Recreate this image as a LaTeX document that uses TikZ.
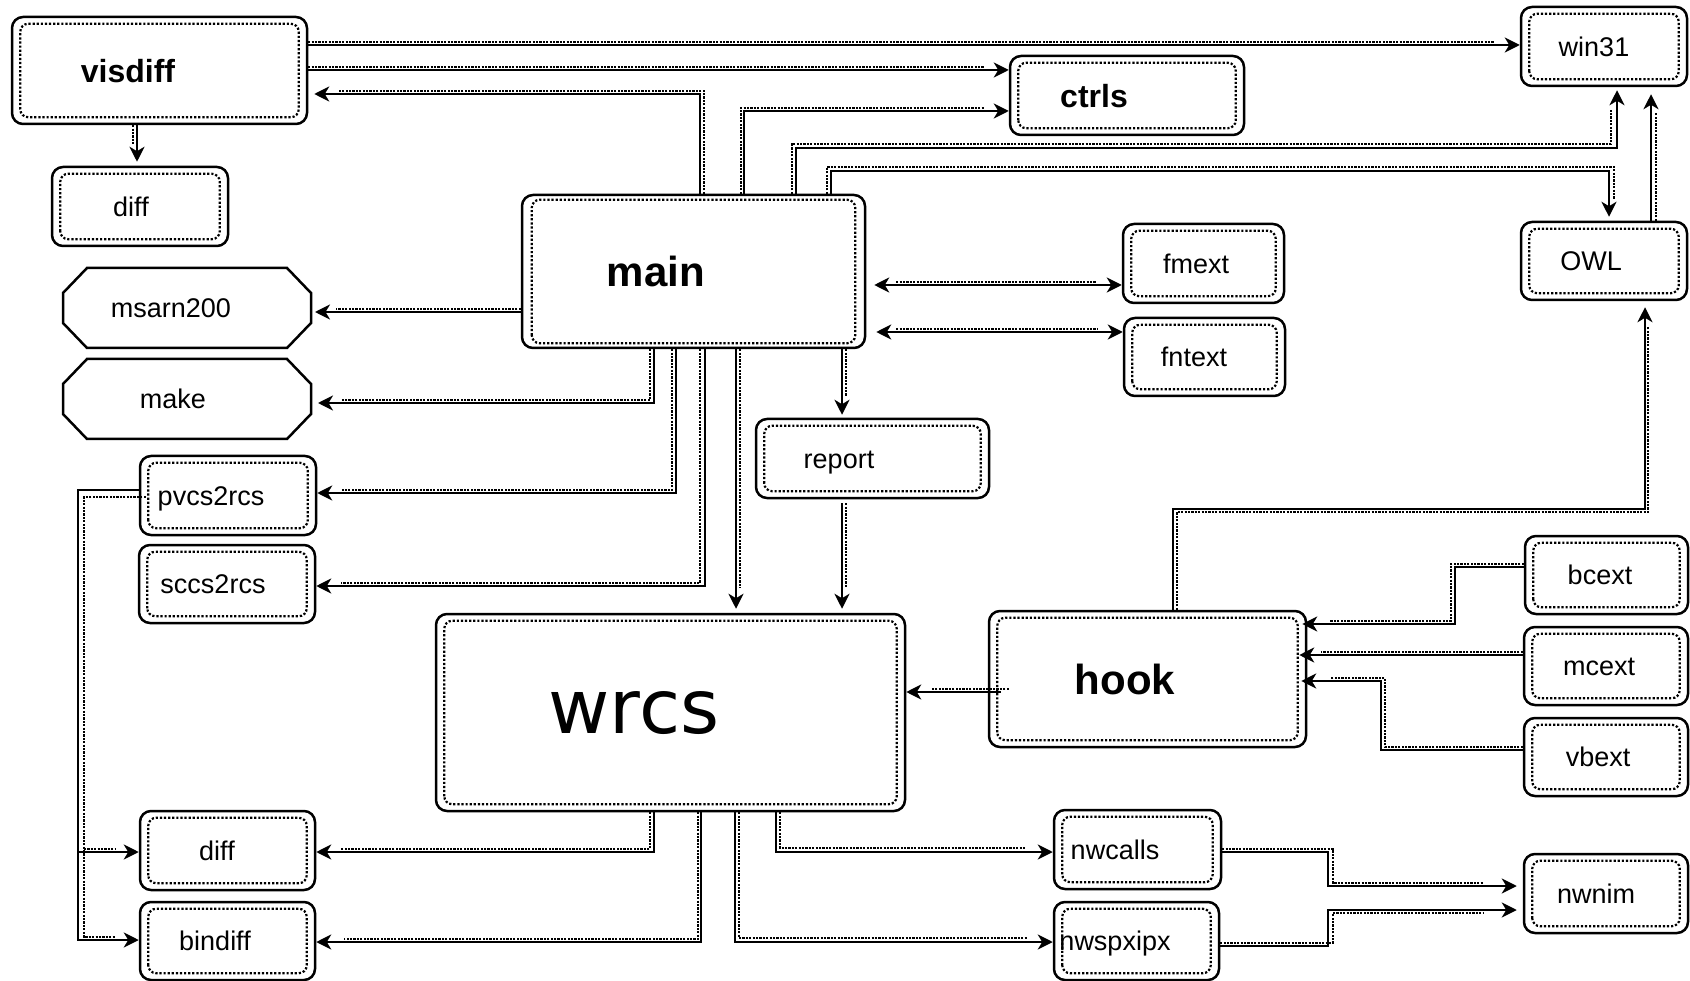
\documentclass[tikz,border=0pt]{standalone}
\usepackage{fontspec}
\setmainfont{Liberation Sans}
\newfontfamily\wfont{DejaVu Sans}
\usetikzlibrary{arrows.meta}
\newcommand\sh[2]{\hspace*{#1}#2\hspace*{-#1}}
\newcommand\octo[1]{\draw[line width=2.5pt, line join=miter] ([xshift=24pt]#1.north west) -- ([xshift=-24pt]#1.north east) -- ([yshift=-25pt]#1.north east) -- ([yshift=25pt]#1.south east) -- ([xshift=-24pt]#1.south east) -- ([xshift=24pt]#1.south west) -- ([yshift=25pt]#1.south west) -- ([yshift=-25pt]#1.north west) -- cycle;}
\tikzset{
  Tp/.tip={Stealth[length=15pt,width=15pt,inset=4.5pt]},
  box/.style={draw, line width=2.5pt, rounded corners=11pt, inner sep=0pt,
    font=\fontsize{27}{32}\selectfont, text height=19.7pt, text depth=0pt},
  octbox/.style={inner sep=0pt, outer sep=0pt, font=\fontsize{27}{32}\selectfont, text height=19.7pt, text depth=0pt},
  big/.style={font=\fontsize{32}{38}\selectfont\bfseries, text height=23.4pt},
  huge/.style={font=\fontsize{42}{48}\selectfont\bfseries, text height=30.7pt},
  wbig/.style={font=\wfont\fontsize{75}{85}\selectfont, text height=41pt},
  innerline/.style={line width=2.2pt, dash pattern=on 2.2pt off 1.9pt, rounded corners=8pt},
  wire/.style={line width=2.3pt, -Tp},
  both/.style={Tp-Tp},
  dots/.style={line width=2.2pt, dash pattern=on 2.2pt off 1.2pt},
}
\begin{document}
\begin{tikzpicture}[x=1pt,y=-1pt]
\fill[white] (0,0) rectangle (1690,981);
\useasboundingbox (0,0) rectangle (1690,981);

% nodes
\node[box, big, minimum width=295pt, minimum height=107pt] (visdiff) at (159.5,70.5) {\sh{-31.5pt}{visdiff}};
\node[box, minimum width=176pt, minimum height=79pt] (diffA) at (140,206.5) {\sh{-9pt}{diff}};
\node[box, huge, minimum width=343pt, minimum height=153pt] (main) at (693.5,271.5) {\sh{-37.5pt}{main}};
\node[box, big, minimum width=234pt, minimum height=79pt] (ctrls) at (1127,95.5) {\sh{-33pt}{ctrls}};
\node[box, minimum width=166pt, minimum height=79pt] (win31) at (1604,46.5) {\sh{-10pt}{win31}};
\node[box, minimum width=166pt, minimum height=78pt] (OWL) at (1604,261) {\sh{-13pt}{OWL}};
\node[box, minimum width=161pt, minimum height=79pt] (fmext) at (1203.5,263.5) {\sh{-7.5pt}{fmext}};
\node[box, minimum width=161pt, minimum height=78pt] (fntext) at (1204.5,357) {\sh{-10.5pt}{fntext}};
\node[octbox, minimum width=248pt, minimum height=80pt] (msarn) at (187,308) {\sh{-16pt}{msarn200}};
\node[octbox, minimum width=248pt, minimum height=80pt] (make) at (187,399) {\sh{-14pt}{make}};
\octo{msarn}
\octo{make}
\node[box, minimum width=176pt, minimum height=79pt] (pvcs) at (228,495.5) {\sh{-17pt}{pvcs2rcs}};
\node[box, minimum width=176pt, minimum height=78pt] (sccs) at (227,584) {\sh{-14pt}{sccs2rcs}};
\node[box, minimum width=233pt, minimum height=79pt] (report) at (872.5,458.5) {\sh{-33.5pt}{report}};
\node[box, wbig, minimum width=469pt, minimum height=197pt] (wrcs) at (670.5,712.5) {\sh{-36.5pt}{wrcs}};
\node[box, huge, minimum width=317pt, minimum height=136pt] (hook) at (1147.5,679) {\sh{-22.5pt}{hook}};
\node[box, minimum width=163pt, minimum height=78pt] (bcext) at (1606.5,575) {\sh{-6.5pt}{bcext}};
\node[box, minimum width=164pt, minimum height=78pt] (mcext) at (1606,666) {\sh{-7pt}{mcext}};
\node[box, minimum width=164pt, minimum height=78pt] (vbext) at (1606,757) {\sh{-8pt}{vbext}};
\node[box, minimum width=175pt, minimum height=79pt] (diffB) at (227.5,850.5) {\sh{-10.5pt}{diff}};
\node[box, minimum width=175pt, minimum height=78pt] (bindiff) at (227.5,941) {\sh{-12.5pt}{bindiff}};
\node[box, minimum width=167pt, minimum height=79pt] (nwcalls) at (1137.5,849.5) {\sh{-22.5pt}{nwcalls}};
\node[box, minimum width=165pt, minimum height=78pt] (nwspx) at (1136.5,941) {\sh{-21.5pt}{nwspxipx}};
\node[box, minimum width=164pt, minimum height=79pt] (nwnim) at (1606,893.5) {\sh{-10pt}{nwnim}};

\foreach \n in {visdiff,diffA,ctrls,win31,OWL,fmext,fntext,pvcs,sccs,report,wrcs,hook,bcext,mcext,vbext,diffB,bindiff,nwcalls,nwspx,nwnim}
  \draw[innerline] ([xshift=9.5pt,yshift=8pt]\n.south west) rectangle ([xshift=-9.5pt,yshift=-8pt]\n.north east);
\draw[innerline] ([xshift=11pt,yshift=6pt]main.south west) rectangle ([xshift=-11pt,yshift=-6pt]main.north east);

% connectors
% visdiff -> diff
\draw[wire, shorten >=4pt] (visdiff.south -| 137,0) -- (diffA.north -| 137,0);
\draw[dots, shorten >=22pt] (visdiff.south -| 133,0) -- (diffA.north -| 133,0);
% visdiff -> win31
\draw[wire] (visdiff.east |- 0,45) -- (win31.west |- 0,45);
\draw[dots, shorten >=25pt] (visdiff.east |- 0,42) -- (win31.west |- 0,42);
% visdiff -> ctrls
\draw[wire] (visdiff.east |- 0,70) -- (ctrls.west |- 0,70);
\draw[dots, shorten >=25pt] (visdiff.east |- 0,67) -- (ctrls.west |- 0,67);
% main -> visdiff
\draw[wire, shorten >=6pt] (main.north -| 700,0) |- (visdiff.east |- 0,94);
\draw[dots, shorten >=30pt] (main.north -| 704,0) |- (visdiff.east |- 0,91);
% main -> ctrls
\draw[wire] (main.north -| 744,0) |- (ctrls.west |- 0,111);
\draw[dots, shorten >=25pt] (main.north -| 741,0) |- (ctrls.west |- 0,108);
% main -> win31
\draw[wire, shorten >=3pt] (main.north -| 796,0) |- (1617,148) -- (win31.south -| 1617,0);
\draw[dots, shorten >=22pt] (main.north -| 792,0) |- (1611,144) -- (win31.south -| 1611,0);
% main -> OWL
\draw[wire, shorten >=4pt] (main.north -| 831,0) |- (1609,171) -- (OWL.north -| 1609,0);
\draw[dots, shorten >=22pt] (main.north -| 827,0) |- (1614,167) -- (OWL.north -| 1614,0);
% OWL -> win31
\draw[wire, shorten >=7pt] (OWL.north -| 1651,0) -- (win31.south -| 1651,0);
\draw[dots, shorten >=25pt] (OWL.north -| 1656,0) -- (win31.south -| 1656,0);
% hook -> OWL
\draw[wire, shorten >=6pt] (hook.north -| 1173,0) |- (1645,509) -- (OWL.south -| 1645,0);
\draw[dots, shorten >=25pt] (hook.north -| 1177,0) |- (1648,512) -- (OWL.south -| 1648,0);
% main <-> fmext, fntext
\draw[wire, both, shorten <=8pt] (main.east |- 0,285) -- (fmext.west |- 0,285);
\draw[dots, shorten <=30pt, shorten >=25pt] (main.east |- 0,282) -- (fmext.west |- 0,282);
\draw[wire, both, shorten <=10pt] (main.east |- 0,332) -- (fntext.west |- 0,332);
\draw[dots, shorten <=30pt, shorten >=25pt] (main.east |- 0,329) -- (fntext.west |- 0,329);
% main -> msarn200
\draw[wire, shorten >=4pt] (main.west |- 0,312) -- (msarn.east |- 0,312);
\draw[dots, shorten >=25pt] (main.west |- 0,309) -- (msarn.east |- 0,309);
% main -> make
\draw[wire, shorten >=7pt] (main.south -| 654,0) |- (make.east |- 0,403);
\draw[dots, shorten >=30pt] (main.south -| 650,0) |- (make.east |- 0,400);
% main -> pvcs2rcs
\draw[wire] (main.south -| 676,0) |- (pvcs.east |- 0,493);
\draw[dots, shorten >=25pt] (main.south -| 672,0) |- (pvcs.east |- 0,490);
% main -> sccs2rcs
\draw[wire] (main.south -| 705,0) |- (sccs.east |- 0,586);
\draw[dots, shorten >=25pt] (main.south -| 700,0) |- (sccs.east |- 0,583);
% main -> wrcs
\draw[wire, shorten >=4pt] (main.south -| 736,0) -- (wrcs.north -| 736,0);
\draw[dots, shorten >=25pt] (main.south -| 740,0) -- (wrcs.north -| 740,0);
% main -> report -> wrcs
\draw[wire, shorten >=3pt] (main.south -| 842,0) -- (report.north -| 842,0);
\draw[dots, shorten >=22pt] (main.south -| 846,0) -- (report.north -| 846,0);
\draw[wire, shorten <=4pt, shorten >=4pt] (report.south -| 842,0) -- (wrcs.north -| 842,0);
\draw[dots, shorten <=4pt, shorten >=25pt] (report.south -| 846,0) -- (wrcs.north -| 846,0);
% hook -> wrcs
\draw[wire, shorten <=-13pt] (hook.west |- 0,692) -- (wrcs.east |- 0,692);
\draw[dots, shorten <=-21pt, shorten >=25pt] (hook.west |- 0,689) -- (wrcs.east |- 0,689);
% bcext, mcext, vbext -> hook
\draw[wire, shorten >=-5pt] (bcext.west |- 0,567) -| (1455,624) -- (hook.east |- 0,624);
\draw[dots, shorten >=22pt] (bcext.west |- 0,564) -| (1451,621) -- (hook.east |- 0,621);
\draw[wire, shorten >=-8pt] (mcext.west |- 0,655) -- (hook.east |- 0,655);
\draw[dots, shorten >=14pt] (mcext.west |- 0,652) -- (hook.east |- 0,652);
\draw[wire, shorten >=-6pt] (vbext.west |- 0,750) -| (1381,681) -- (hook.east |- 0,681);
\draw[dots, shorten >=24pt] (vbext.west |- 0,747) -| (1385,678) -- (hook.east |- 0,678);
% wrcs -> diff, bindiff
\draw[wire] (wrcs.south -| 654,0) |- (diffB.east |- 0,852);
\draw[dots, shorten >=25pt] (wrcs.south -| 650,0) |- (diffB.east |- 0,849);
\draw[wire] (wrcs.south -| 701,0) |- (bindiff.east |- 0,942);
\draw[dots, shorten >=28pt] (wrcs.south -| 698,0) |- (bindiff.east |- 0,939);
% pvcs2rcs -> diff, bindiff
\coordinate (split) at (78,852);
\draw[wire] (pvcs.west |- 0,490) -| (78,940) -- (bindiff.west |- 0,940);
\draw[wire] (split) -- (diffB.west |- 0,852);
\draw[dots, shorten <=-7pt, shorten >=23pt] (pvcs.west |- 0,497) -| (84,937) -- (bindiff.west |- 0,937);
\draw[dots, shorten >=23pt] (84,849) -- (diffB.west |- 0,849);
% wrcs -> nwcalls, nwspxipx
\draw[wire] (wrcs.south -| 776,0) |- (nwcalls.west |- 0,852);
\draw[dots, shorten >=28pt] (wrcs.south -| 780,0) |- (nwcalls.west |- 0,848);
\draw[wire] (wrcs.south -| 735,0) |- (nwspx.west |- 0,942);
\draw[dots, shorten >=25pt] (wrcs.south -| 739,0) |- (nwspx.west |- 0,938);
% nwcalls, nwspxipx -> nwnim
\draw[wire, shorten >=6pt] (nwcalls.east |- 0,852) -| (1328,886) -- (nwnim.west |- 0,886);
\draw[dots, shorten >=40pt] (nwcalls.east |- 0,849) -| (1333,883) -- (nwnim.west |- 0,883);
\draw[wire, shorten >=6pt] (nwspx.east |- 0,946) -| (1328,910) -- (nwnim.west |- 0,910);
\draw[dots, shorten >=40pt] (nwspx.east |- 0,943) -| (1333,913) -- (nwnim.west |- 0,913);
\end{tikzpicture}
\end{document}
